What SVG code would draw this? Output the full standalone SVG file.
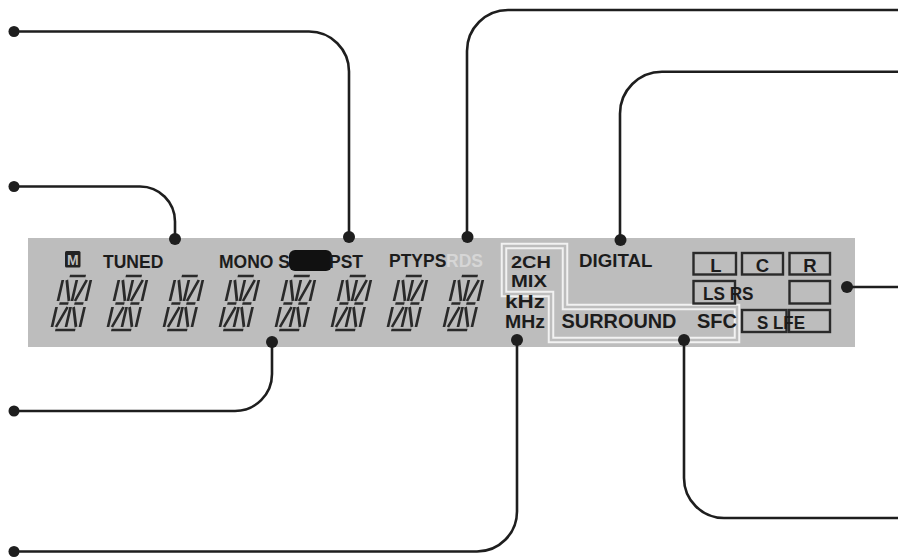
<svg xmlns="http://www.w3.org/2000/svg" xmlns:xlink="http://www.w3.org/1999/xlink" width="907" height="559" viewBox="0 0 907 559">
<style>
.t{font-family:"Liberation Sans",Arial,sans-serif;font-weight:bold;fill:#1c1c1c}
.c{fill:none;stroke:#1e1e1e;stroke-width:2.6}
.d{fill:#1e1e1e}
.seg{fill:none;stroke:#2a2a2a;stroke-width:2.7}
.bx{fill:none;stroke:#2a2a2a;stroke-width:2.4}
</style>
<defs>
<g id="digit" class="seg" transform="skewX(-13)">
<path d="M-8,-27H8 M-14,-23V-2 M-10,-23L-3,-2 M0,-23V-2 M10,-23L3,-2 M14,-23V-2 M-12,0.5H-3 M3,0.5H12 M-14,4V24 M-3,4L-10,24 M0,4V24 M3,4L10,24 M14,4V24 M-10,27H10"/>
</g>
</defs>
<rect width="907" height="559" fill="#ffffff"/>
<g id="panel">
<rect x="28" y="238" width="827" height="109" fill="#bdbdbd"/>
</g>
<g id="outline">
<path d="M504,246H565V307H737V340H551V294H504Z" fill="none" stroke="#f2f2f2" stroke-width="6.5"/>
<path d="M504,246H565V307H737V340H551V294H504Z" fill="none" stroke="#bdbdbd" stroke-width="2.5"/>
</g>
<g id="memory">
<rect x="65" y="251" width="15.5" height="16.5" rx="1.5" fill="#222"/>
<text class="t" x="72.8" y="264.5" font-size="14" text-anchor="middle" style="fill:#bdbdbd">M</text>
</g>
<g id="tuned"><text class="t" x="103" y="268" font-size="17.5">TUNED</text></g>
<g id="mono"><text class="t" x="219" y="268" font-size="17.5">MONO S</text>
<rect x="289" y="250" width="43" height="21" rx="6" fill="#111"/></g>
<g id="pst"><text class="t" x="329" y="268" font-size="17.5">PST</text></g>
<g id="ptyps"><text class="t" x="389" y="267" font-size="17.5">PTYPS</text></g>
<g id="rds"><text class="t" x="446" y="267" font-size="17.5" style="fill:#d6d6d6">RDS</text></g>
<g id="digits">
<use xlink:href="#digit" x="71.5" y="303"/>
<use xlink:href="#digit" x="127.5" y="303"/>
<use xlink:href="#digit" x="183.5" y="303"/>
<use xlink:href="#digit" x="239.5" y="303"/>
<use xlink:href="#digit" x="295.5" y="303"/>
<use xlink:href="#digit" x="351.5" y="303"/>
<use xlink:href="#digit" x="407.5" y="303"/>
<use xlink:href="#digit" x="463.5" y="303"/>
</g>
<g id="twoch"><text class="t" x="511" y="267.5" font-size="17" textLength="40" lengthAdjust="spacingAndGlyphs">2CH</text>
<text class="t" x="511" y="287" font-size="17" textLength="36" lengthAdjust="spacingAndGlyphs">MIX</text></g>
<g id="freq"><text class="t" x="505" y="308" font-size="18" textLength="40" lengthAdjust="spacingAndGlyphs">kHz</text>
<text class="t" x="505" y="328" font-size="18" textLength="40" lengthAdjust="spacingAndGlyphs">MHz</text></g>
<g id="digital"><text class="t" x="579" y="267" font-size="18.7">DIGITAL</text></g>
<g id="surround"><text class="t" x="561.5" y="328" font-size="19.5" textLength="115" lengthAdjust="spacingAndGlyphs">SURROUND</text></g>
<g id="sfc"><text class="t" x="697" y="328" font-size="19.5" textLength="40" lengthAdjust="spacingAndGlyphs">SFC</text></g>
<g id="channels">
<rect class="bx" x="693.5" y="253" width="42.5" height="21.5"/>
<rect class="bx" x="742" y="253" width="41" height="21.5"/>
<rect class="bx" x="789.5" y="253" width="40.5" height="21.5"/>
<rect class="bx" x="693.5" y="281" width="41.5" height="22.5"/>
<rect class="bx" x="789.5" y="281" width="40.5" height="22.5"/>
<rect class="bx" x="742" y="310" width="44.5" height="22"/>
<rect class="bx" x="789" y="310" width="41" height="22"/>
<text class="t" x="716" y="271.5" font-size="18.5" text-anchor="middle">L</text>
<text class="t" x="762.5" y="271.5" font-size="18.5" text-anchor="middle">C</text>
<text class="t" x="810" y="271.5" font-size="18.5" text-anchor="middle">R</text>
<text class="t" x="703" y="300" font-size="18.5" textLength="50.5" lengthAdjust="spacingAndGlyphs">LS RS</text>
<text class="t" x="757" y="328.5" font-size="18.5" textLength="48" lengthAdjust="spacingAndGlyphs">S LFE</text>
</g>
<g id="connectors">
<path class="c" d="M14,31.5H309A40,40 0 0 1 349,71.5V237"/>
<path class="c" d="M14,186.5H140A35,35 0 0 1 175,221.5V239"/>
<path class="c" d="M898,10H508A41,41 0 0 0 467,51V237"/>
<path class="c" d="M898,71.7H662A42,42 0 0 0 620,113.7V240"/>
<path class="c" d="M847,287H898"/>
<path class="c" d="M272,342V374A37,37 0 0 1 235,411H14"/>
<path class="c" d="M517,340V511.5A40,40 0 0 1 477,551.5H14"/>
<path class="c" d="M684,340V478A40,40 0 0 0 724,518H898"/>
<circle class="d" cx="14" cy="31.5" r="5.5"/>
<circle class="d" cx="14" cy="186.5" r="5.5"/>
<circle class="d" cx="14" cy="411" r="5.5"/>
<circle class="d" cx="14" cy="551.5" r="5.5"/>
<circle class="d" cx="175" cy="239" r="6"/>
<circle class="d" cx="349" cy="237" r="6"/>
<circle class="d" cx="467.5" cy="237" r="6"/>
<circle class="d" cx="620.5" cy="240" r="6"/>
<circle class="d" cx="272" cy="342" r="6"/>
<circle class="d" cx="517" cy="340" r="6"/>
<circle class="d" cx="684" cy="340" r="6"/>
<circle class="d" cx="847" cy="287" r="6"/>
</g>
</svg>
